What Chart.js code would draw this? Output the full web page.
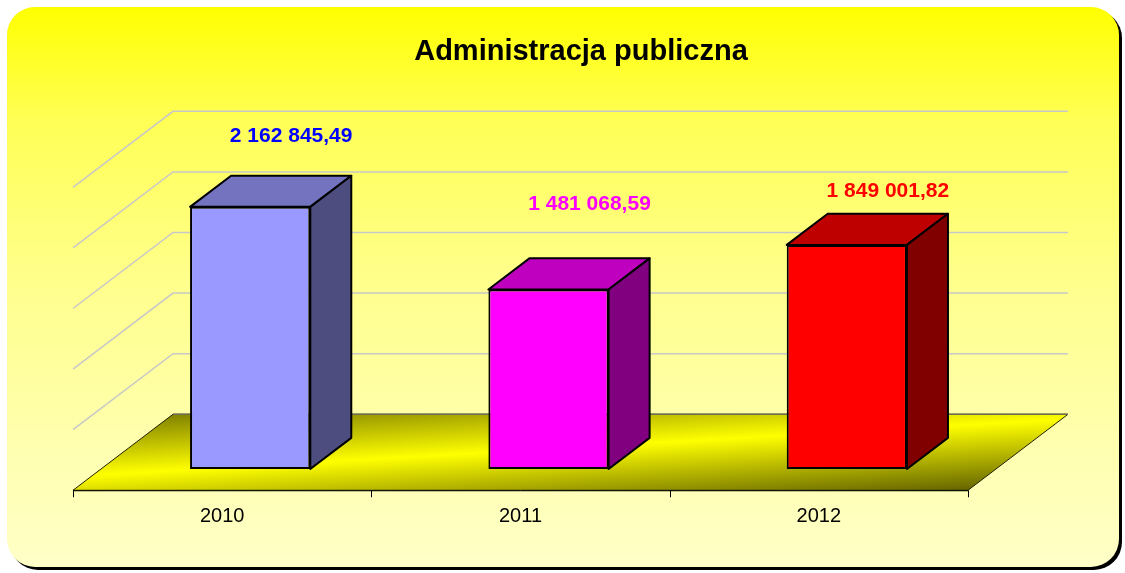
<!DOCTYPE html>
<html>
<head>
<meta charset="utf-8">
<script src="https://cdn.jsdelivr.net/npm/chart.js@4/dist/chart.umd.min.js"></script>
<style>
  html, body { margin: 0; padding: 0; background: #fff; }
  canvas { display: block; }
</style>
</head>
<body>
<canvas id="myChart" width="1125" height="573"></canvas>
<script>
// Data
const categories = ['2010', '2011', '2012'];
const values = [2162845.49, 1481068.59, 1849001.82];
const yTicks = [0, 500000, 1000000, 1500000, 2000000, 2500000];

// Bar colours (front / top / side) and label colours
const frontColors = ['#9999FF', '#FF00FF', '#FF0000'];
const topColors = ['#7373BF', '#BF00BF', '#BF0000'];
const sideColors = ['#4D4D80', '#800080', '#800000'];
const labelColors = ['#0000FF', '#FF00FF', '#FF0000'];

const FONT = "'Liberation Sans', Arial, sans-serif";

// polish number format: 2 162 845,49
const formatPl = (v) => {
  const parts = v.toFixed(2).split('.');
  return parts[0].replace(/\B(?=(\d{3})+(?!\d))/g, ' ') + ',' + parts[1];
};

// 3D depth settings
const DEPTH = { dx: 100, dy: -76, barFront: 0.28, barBack: 0.69 };

const roundRect = (ctx, x, y, w, h, r) => {
  ctx.beginPath();
  ctx.moveTo(x + r, y);
  ctx.lineTo(x + w - r, y);
  ctx.arcTo(x + w, y, x + w, y + r, r);
  ctx.lineTo(x + w, y + h - r);
  ctx.arcTo(x + w, y + h, x + w - r, y + h, r);
  ctx.lineTo(x + r, y + h);
  ctx.arcTo(x, y + h, x, y + h - r, r);
  ctx.lineTo(x, y + r);
  ctx.arcTo(x, y, x + r, y, r);
  ctx.closePath();
};

const poly = (ctx, pts, fill, stroke, lw) => {
  ctx.beginPath();
  ctx.moveTo(pts[0][0], pts[0][1]);
  for (let i = 1; i < pts.length; i++) ctx.lineTo(pts[i][0], pts[i][1]);
  ctx.closePath();
  if (fill) { ctx.fillStyle = fill; ctx.fill(); }
  if (stroke) { ctx.strokeStyle = stroke; ctx.lineWidth = lw; ctx.stroke(); }
};

const chart3d = {
  id: 'chart3d',
  beforeDraw(chart) {
    const ctx = chart.ctx;
    ctx.save();
    ctx.fillStyle = '#FFFFFF';
    ctx.fillRect(0, 0, chart.width, chart.height);
    // shadow
    roundRect(ctx, 10, 10, 1112, 560, 28);
    ctx.fillStyle = '#000000';
    ctx.fill();
    // background panel
    const g = ctx.createLinearGradient(0, 7, 0, 567);
    g.addColorStop(0, '#FFFF00');
    g.addColorStop(0.2, '#FFFF55');
    g.addColorStop(0.5, '#FFFF8E');
    g.addColorStop(1, '#FFFFC8');
    roundRect(ctx, 7, 7, 1112, 560, 28);
    ctx.fillStyle = g;
    ctx.fill();
    ctx.restore();
  },
  beforeDatasetsDraw(chart) {
    const ctx = chart.ctx;
    const area = chart.chartArea;
    const yScale = chart.scales.y;
    const xScale = chart.scales.x;
    const bx = DEPTH.dx * (1 - DEPTH.barFront), by = DEPTH.dy * (1 - DEPTH.barFront);
    const fx = -DEPTH.dx * DEPTH.barFront, fy = -DEPTH.dy * DEPTH.barFront;
    ctx.save();

    // back wall + side wall gridlines
    ctx.strokeStyle = '#C8C8C8';
    ctx.lineWidth = 1.5;
    yTicks.forEach(t => {
      if (t === 0) return;
      const y = yScale.getPixelForValue(t);
      ctx.beginPath();
      ctx.moveTo(area.left + fx, y + fy);
      ctx.lineTo(area.left + bx, y + by);
      ctx.lineTo(area.right + bx, y + by);
      ctx.stroke();
    });

    // floor
    const y0 = yScale.getPixelForValue(0);
    const floor = [
      [area.left + fx, y0 + fy],
      [area.left + bx, y0 + by],
      [area.right + bx, y0 + by],
      [area.right + fx, y0 + fy]
    ];
    const fg = ctx.createLinearGradient(23.9, 419.2, 31.1, 543.9);
    fg.addColorStop(0, '#7A7A00');
    fg.addColorStop(0.48, '#FFFF00');
    fg.addColorStop(1, '#666600');
    poly(ctx, floor, fg, '#222200', 1);
    ctx.strokeStyle = '#6E6E50';
    ctx.lineWidth = 1.5;
    ctx.beginPath();
    ctx.moveTo(floor[1][0], floor[1][1]);
    ctx.lineTo(floor[2][0], floor[2][1]);
    ctx.stroke();

    // x axis line and ticks on the front edge
    ctx.strokeStyle = '#000000';
    ctx.lineWidth = 1;
    ctx.beginPath();
    ctx.moveTo(floor[0][0], floor[0][1] + 0.5);
    ctx.lineTo(floor[3][0], floor[3][1] + 0.5);
    const n = categories.length;
    const step = (area.right - area.left) / n;
    for (let i = 0; i <= n; i++) {
      const x = Math.round(area.left + fx + i * step) + 0.5;
      ctx.moveTo(x, floor[0][1]);
      ctx.lineTo(x, floor[0][1] + 7);
    }
    ctx.stroke();

    // category labels
    ctx.fillStyle = '#000000';
    ctx.font = '20px ' + FONT;
    ctx.textAlign = 'center';
    ctx.textBaseline = 'middle';
    categories.forEach((c, i) => {
      ctx.fillText(c, xScale.getPixelForValue(i) + fx, floor[0][1] + 26);
    });
    ctx.restore();
  },
  afterDatasetsDraw(chart, args, opts) {
    const ctx = chart.ctx;
    const meta = chart.getDatasetMeta(0);
    const ddx = DEPTH.dx * (DEPTH.barBack - DEPTH.barFront);
    const ddy = DEPTH.dy * (DEPTH.barBack - DEPTH.barFront);
    ctx.save();
    ctx.lineJoin = 'round';
    meta.data.forEach((bar, i) => {
      const l = bar.x - bar.width / 2, r = bar.x + bar.width / 2;
      const t = bar.y, b = bar.base;
      poly(ctx, [[l, t], [l + ddx, t + ddy], [r + ddx, t + ddy], [r, t]], topColors[i], '#000000', 2);
      poly(ctx, [[r, t], [r + ddx, t + ddy], [r + ddx, b + ddy], [r, b]], sideColors[i], '#000000', 2);
      // value labels
      ctx.fillStyle = labelColors[i];
      ctx.font = 'bold 21px ' + FONT;
      ctx.textAlign = 'center';
      ctx.textBaseline = 'middle';
      ctx.fillText(formatPl(values[i]), bar.x + 41, t - opts.labelLift[i]);
    });

    // title
    ctx.fillStyle = '#000000';
    ctx.font = 'bold 29px ' + FONT;
    ctx.textAlign = 'center';
    ctx.textBaseline = 'middle';
    ctx.fillText('Administracja publiczna', 581, 52);
    ctx.restore();
  }
};

const ctx = document.getElementById('myChart').getContext('2d');
const myChart = new Chart(ctx, {
  type: 'bar',
  data: {
    labels: categories,
    datasets: [{
      data: values,
      backgroundColor: frontColors,
      borderColor: '#000000',
      borderWidth: 2,
      borderSkipped: false,
      categoryPercentage: 1,
      barPercentage: 0.403
    }]
  },
  options: {
    responsive: false,
    animation: false,
    devicePixelRatio: 1,
    layout: { padding: { left: 101, right: 129, top: 166, bottom: 104 } },
    plugins: {
      legend: { display: false },
      tooltip: { enabled: false },
      title: { display: false },
      chart3d: { labelLift: [71, 85, 54] }
    },
    scales: {
      x: { display: false },
      y: { display: false, min: 0, max: 2500000, ticks: { stepSize: 500000 } }
    }
  },
  plugins: [chart3d]
});
</script>
</body>
</html>
